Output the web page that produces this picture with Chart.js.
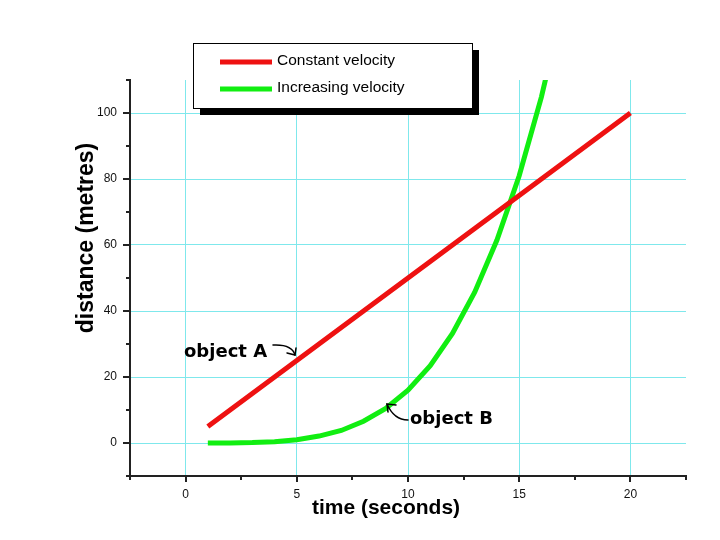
<!DOCTYPE html>
<html>
<head>
<meta charset="utf-8">
<script src="https://cdn.jsdelivr.net/npm/chart.js@4.4.1/dist/chart.umd.min.js"></script>
<style>
html,body{margin:0;padding:0;background:#fff;}
#wrap{width:720px;height:540px;position:relative;}
</style>
</head>
<body>
<div id="wrap"><canvas id="c" width="720" height="540"></canvas></div>
<script>
// ---- data ----
const timeA = [1,2,3,4,5,6,7,8,9,10,11,12,13,14,15,16,17,18,19,20];
const distanceA = [5,10,15,20,25,30,35,40,45,50,55,60,65,70,75,80,85,90,95,100];
const timeB = [1,2,3,4,5,6,7,8,9,10,11,12,13,14,15,16,17];
const distanceB = [0.0,0.03,0.13,0.41,1.0,2.1,3.8,6.6,10.5,16,23.4,33.2,45.7,61.5,81,104.9,133.6];
const seriesLabels = ['Constant velocity','Increasing velocity'];
const xTitle = 'time (seconds)';
const yTitle = 'distance (metres)';
const noteA = 'object A';
const noteB = 'object B';

const RED = '#ee1111';
const GREEN = '#11ee11';
const GRID = '#7fe8ec';
const AXIS = '#222222';

function near(v, step){ return Math.abs(v/step - Math.round(v/step)) < 1e-6; }

const decor = {
  id: 'decor',
  afterDraw(chart){
    const ctx = chart.ctx;
    const xs = chart.scales.x, ys = chart.scales.y;
    const area = chart.chartArea;
    ctx.save();
    // axis ticks (major / minor)
    ctx.strokeStyle = AXIS;
    ctx.lineWidth = 2;
    xs.ticks.forEach(t => {
      const px = Math.round(xs.getPixelForValue(t.value));
      const len = near(t.value,5) ? 6 : 4;
      ctx.beginPath(); ctx.moveTo(px, area.bottom); ctx.lineTo(px, area.bottom + len); ctx.stroke();
    });
    ys.ticks.forEach(t => {
      const py = Math.round(ys.getPixelForValue(t.value));
      const len = near(t.value,20) ? 7 : 4;
      ctx.beginPath(); ctx.moveTo(area.left, py); ctx.lineTo(area.left - len, py); ctx.stroke();
    });
    // axis titles
    ctx.fillStyle = '#000';
    ctx.font = 'bold 21px "Liberation Sans", Arial, sans-serif';
    ctx.textAlign = 'center'; ctx.textBaseline = 'alphabetic';
    ctx.fillText(xTitle, 386, 514);
    ctx.save();
    ctx.translate(93, 238);
    ctx.rotate(-Math.PI/2);
    ctx.font = 'bold 23px "Liberation Sans", Arial, sans-serif';
    ctx.fillText(yTitle, 0, 0);
    ctx.restore();

    // legend box with shadow
    const bx = 193, by = 43, bw = 279, bh = 65;
    ctx.fillStyle = '#000';
    ctx.fillRect(bx + 7, by + 7, bw, bh);
    ctx.fillStyle = '#fff';
    ctx.fillRect(bx, by, bw, bh);
    ctx.strokeStyle = '#000'; ctx.lineWidth = 1;
    ctx.strokeRect(bx + 0.5, by + 0.5, bw, bh);
    const ds = chart.data.datasets;
    const rows = [62, 89];
    ds.forEach((d, i) => {
      ctx.strokeStyle = d.borderColor; ctx.lineWidth = 5;
      ctx.beginPath(); ctx.moveTo(220, rows[i]); ctx.lineTo(272, rows[i]); ctx.stroke();
      ctx.fillStyle = '#000';
      ctx.font = '15.5px "Liberation Sans", Arial, sans-serif';
      ctx.textAlign = 'left'; ctx.textBaseline = 'middle';
      ctx.fillText(d.label, 277, rows[i] - 1);
    });

    // annotations
    ctx.fillStyle = '#000';
    ctx.font = 'bold 18px "DejaVu Sans", sans-serif';
    ctx.textAlign = 'left'; ctx.textBaseline = 'alphabetic';
    ctx.fillText(noteA, 184, 357);
    ctx.fillText(noteB, 410, 424);
    ctx.strokeStyle = '#000'; ctx.lineWidth = 1.5; ctx.lineCap = 'round';
    // arrow A
    ctx.beginPath(); ctx.moveTo(273, 345); ctx.quadraticCurveTo(292, 344, 295, 355); ctx.stroke();
    ctx.beginPath(); ctx.moveTo(287, 353); ctx.lineTo(295, 355); ctx.lineTo(296, 348); ctx.stroke();
    // arrow B
    ctx.beginPath(); ctx.moveTo(408, 420); ctx.quadraticCurveTo(394, 420, 387, 404); ctx.stroke();
    ctx.beginPath(); ctx.moveTo(396, 405); ctx.lineTo(387, 404); ctx.lineTo(388, 412); ctx.stroke();
    ctx.restore();
  }
};

new Chart(document.getElementById('c'), {
  type: 'line',
  data: {
    datasets: [
      { label: seriesLabels[0], data: timeA.map((t,i)=>({x:t, y:distanceA[i]})),
        borderColor: RED, backgroundColor: RED, borderWidth: 5, pointRadius: 0, tension: 0, fill: false },
      { label: seriesLabels[1], data: timeB.map((t,i)=>({x:t, y:distanceB[i]})),
        borderColor: GREEN, backgroundColor: GREEN, borderWidth: 5, pointRadius: 0, tension: 0, fill: false }
    ]
  },
  options: {
    responsive: false,
    animation: false,
    events: [],
    layout: { padding: { left: 0, top: 80, right: 34, bottom: 0 } },
    plugins: { legend: { display: false }, tooltip: { enabled: false } },
    scales: {
      x: {
        type: 'linear', min: -2.5, max: 22.5,
        afterFit(s){ s.height = 64; },
        ticks: { stepSize: 2.5, autoSkip: false, padding: 11, color: '#111',
          font: { family: '"Liberation Sans", Arial, sans-serif', size: 12 },
          callback: v => near(v,5) ? String(v) : '' },
        grid: { drawTicks: false, lineWidth: 1,
          color: c => (c.tick && near(c.tick.value,5)) ? GRID : 'rgba(0,0,0,0)' },
        border: { display: true, color: AXIS, width: 2 }
      },
      y: {
        type: 'linear', min: -10, max: 110,
        afterFit(s){ s.width = 130; },
        ticks: { stepSize: 10, autoSkip: false, padding: 13, color: '#111',
          font: { family: '"Liberation Sans", Arial, sans-serif', size: 12 },
          callback: v => near(v,20) ? String(v) : '' },
        grid: { drawTicks: false, lineWidth: 1,
          color: c => (c.tick && near(c.tick.value,20)) ? GRID : 'rgba(0,0,0,0)' },
        border: { display: true, color: AXIS, width: 2 }
      }
    }
  },
  plugins: [decor]
});
</script>
</body>
</html>
